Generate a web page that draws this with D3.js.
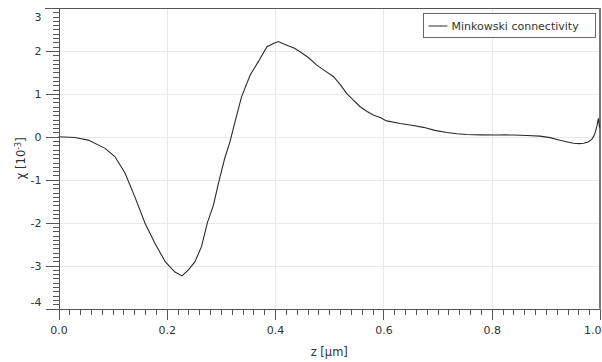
<!DOCTYPE html>
<html>
<head>
<meta charset="utf-8">
<style>
  body { margin: 0; background: #fff; }
  svg text { font-family: "DejaVu Sans", Verdana, sans-serif; fill: #333; }
  .grid line { stroke: #e8e8e8; stroke-width: 1; }
  .axis path, .axis line { stroke: #555; shape-rendering: crispEdges; }
  .curve { fill: none; stroke: #2b2b2b; stroke-width: 1.1; }
</style>
</head>
<body>
<script src="https://cdn.jsdelivr.net/npm/d3@7"></script>
<script>
// z [um] and chi [10^-3]
var zVals = [0.000, 0.030, 0.055, 0.086, 0.104, 0.123, 0.141, 0.160, 0.178, 0.197,
             0.215, 0.228, 0.240, 0.252, 0.264, 0.275, 0.286, 0.297, 0.307, 0.317,
             0.325, 0.338, 0.354, 0.369, 0.385, 0.398, 0.406, 0.415, 0.424, 0.435,
             0.446, 0.462, 0.477, 0.493, 0.508, 0.520, 0.532, 0.545, 0.557, 0.570,
             0.581, 0.594, 0.606, 0.631, 0.652, 0.674, 0.695, 0.717, 0.736, 0.754,
             0.780, 0.809, 0.825, 0.840, 0.865, 0.889, 0.908, 0.926, 0.940, 0.951,
             0.962, 0.970, 0.978, 0.985, 0.990, 0.994, 0.997, 0.999, 1.000];
var chiVals = [0.000, -0.015, -0.077, -0.27, -0.46, -0.85, -1.40, -2.02, -2.48, -2.91,
               -3.15, -3.24, -3.10, -2.91, -2.56, -2.00, -1.60, -1.00, -0.50, -0.10,
               0.30, 0.93, 1.44, 1.75, 2.10, 2.18, 2.22, 2.17, 2.12, 2.07,
               1.98, 1.84, 1.67, 1.53, 1.40, 1.22, 1.01, 0.85, 0.70, 0.59,
               0.51, 0.45, 0.37, 0.31, 0.27, 0.22, 0.15, 0.10, 0.07, 0.055,
               0.045, 0.04, 0.045, 0.04, 0.03, 0.016, -0.02, -0.08, -0.12, -0.15,
               -0.16, -0.15, -0.12, -0.06, 0.05, 0.23, 0.43, 0.23, 0.20];
var xTicks = [0.0, 0.2, 0.4, 0.6, 0.8, 1.0];
var yTicks = [-4, -3, -2, -1, 0, 1, 2, 3];
var seriesName = "Minkowski connectivity";

var W = 602, H = 362;
var pLeft = 58.5, pRight = 600, pTop = 8, pBottom = 308.5;

var svg = d3.select("body").append("svg")
    .attr("width", W).attr("height", H);

var x = d3.scaleLinear().domain([0, 1]).range([pLeft, pRight]);
var y = d3.scaleLinear().domain([-4, 3]).range([pBottom, pTop]);

// grid
var grid = svg.append("g").attr("class", "grid");
grid.selectAll(".gx").data(xTicks.slice(1, -1)).enter().append("line")
    .attr("x1", d => Math.round(x(d)) + 0.5).attr("x2", d => Math.round(x(d)) + 0.5)
    .attr("y1", pTop).attr("y2", pBottom);
grid.selectAll(".gy").data(yTicks.slice(1, -1)).enter().append("line")
    .attr("x1", pLeft).attr("x2", pRight)
    .attr("y1", d => Math.round(y(d)) + 0.5).attr("y2", d => Math.round(y(d)) + 0.5);

// frame top + right
svg.append("line").attr("x1", 45).attr("x2", pRight).attr("y1", pTop + 0.5).attr("y2", pTop + 0.5)
    .attr("stroke", "#555");
svg.append("line").attr("x1", pRight).attr("x2", pRight).attr("y1", pTop).attr("y2", pBottom)
    .attr("stroke", "#777").attr("stroke-width", 2);

// curve
svg.append("path")
    .datum(zVals.map((z, i) => [z, chiVals[i]]))
    .attr("class", "curve")
    .attr("d", d3.line().x(d => x(d[0])).y(d => y(d[1])));

// x axis: minor then major
svg.append("g").attr("class", "axis")
    .attr("transform", "translate(0," + pBottom + ")")
    .call(d3.axisBottom(x).tickValues(d3.range(0, 51).map(i => i / 50)).tickSize(6).tickFormat("").tickSizeOuter(0));
var xa = svg.append("g").attr("class", "axis")
    .attr("transform", "translate(0," + pBottom + ")")
    .call(d3.axisBottom(x).tickValues(xTicks).tickSize(11).tickSizeOuter(0).tickFormat(d => d.toFixed(1)));
xa.selectAll("text").attr("font-size", 11).attr("dy", "1.1em").attr("y", 13);
xa.select("path").remove();
xa.selectAll("text").filter(d => d === 1).attr("text-anchor", "end").attr("dx", 1);

// y axis
svg.append("g").attr("class", "axis")
    .attr("transform", "translate(" + pLeft + ",0)")
    .call(d3.axisLeft(y).tickValues(d3.range(-40, 31).map(i => i / 10)).tickSize(6).tickFormat("").tickSizeOuter(0));
var ya = svg.append("g").attr("class", "axis")
    .attr("transform", "translate(" + pLeft + ",0)")
    .call(d3.axisLeft(y).tickValues(yTicks).tickSize(13).tickSizeOuter(0).tickFormat(d => String(d)));
ya.select("path").remove();
ya.selectAll("text").attr("font-size", 11).attr("x", -17)
    .attr("transform", d => d === 3 ? "translate(0,9)" : d === -4 ? "translate(0,-7)" : null);

// axis labels
svg.append("text").attr("x", (pLeft + pRight) / 2).attr("y", 356)
    .attr("text-anchor", "middle").attr("font-size", 11.5).text("z [μm]");
var yl = svg.append("text").attr("transform", "translate(25," + ((pTop + pBottom) / 2) + ") rotate(-90)")
    .attr("text-anchor", "middle").attr("font-size", 11.5);
yl.append("tspan").text("χ [10");
yl.append("tspan").attr("dy", -4).attr("font-size", 8).text("-3");
yl.append("tspan").attr("dy", 4).text("]");

// legend
var lg = svg.append("g").attr("transform", "translate(423.5,13.5)");
lg.append("rect").attr("width", 172).attr("height", 24)
    .attr("fill", "#fff").attr("stroke", "#666");
lg.append("line").attr("x1", 5).attr("x2", 24).attr("y1", 12.5).attr("y2", 12.5)
    .attr("stroke", "#2b2b2b");
lg.append("text").attr("x", 28).attr("y", 16.5).attr("font-size", 11).text(seriesName);
</script>
</body>
</html>
